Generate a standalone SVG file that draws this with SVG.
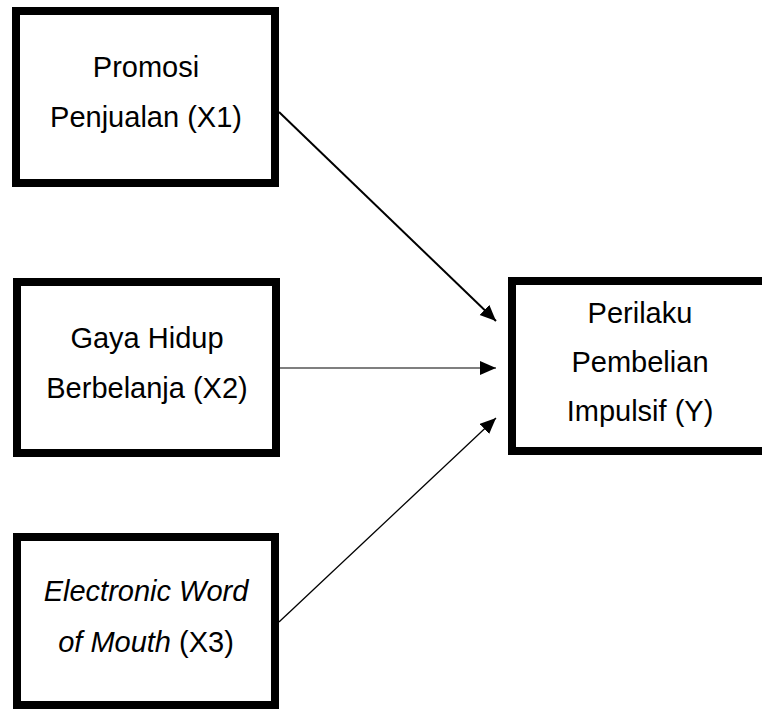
<svg xmlns="http://www.w3.org/2000/svg" width="762" height="709" viewBox="0 0 762 709">
<style>
.box{fill:#fff;stroke:#000;stroke-width:8}
.t{font-family:"Liberation Sans",Arial,sans-serif;font-size:29px;fill:#000;text-anchor:middle}
.c{stroke:#000;fill:none}
</style>
<defs>
<marker id="ah" markerUnits="userSpaceOnUse" markerWidth="18" markerHeight="16" refX="16" refY="7" orient="auto">
<path d="M0,0 L16,7 L0,14 z" fill="#000"/>
</marker>
</defs>
<rect width="762" height="709" fill="#fff"/>
<g id="x1">
<rect class="box" x="16" y="11" width="259" height="172"/>
<text class="t" x="146" y="77">Promosi</text>
<text class="t" x="146" y="127">Penjualan (X1)</text>
</g>
<g id="x2">
<rect class="box" x="17" y="282" width="259" height="171"/>
<text class="t" x="147" y="348">Gaya Hidup</text>
<text class="t" x="147" y="398">Berbelanja (X2)</text>
</g>
<g id="x3">
<rect class="box" x="17" y="537" width="258" height="168"/>
<text class="t" x="146" y="601"><tspan font-style="italic">Electronic Word</tspan></text>
<text class="t" x="146" y="652"><tspan font-style="italic">of Mouth</tspan> (X3)</text>
</g>
<g id="y">
<rect class="box" x="512" y="281" width="260" height="170"/>
<text class="t" x="640" y="323">Perilaku</text>
<text class="t" x="640" y="372">Pembelian</text>
<text class="t" x="640" y="421">Impulsif (Y)</text>
</g>
<g id="connectors">
<line class="c" x1="279" y1="112" x2="496" y2="321" stroke-width="2" marker-end="url(#ah)"/>
<line class="c" x1="280" y1="368" x2="496" y2="368" stroke-width="1.2" marker-end="url(#ah)"/>
<line class="c" x1="279" y1="622" x2="496" y2="418" stroke-width="1.3" marker-end="url(#ah)"/>
</g>
</svg>
